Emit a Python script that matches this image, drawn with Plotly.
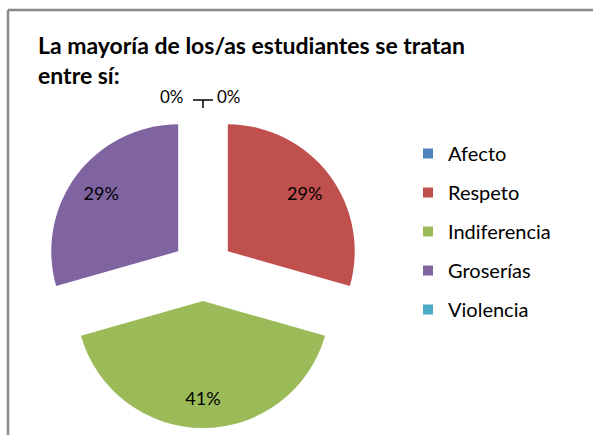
import plotly.graph_objects as go

categories = ["Afecto", "Respeto", "Indiferencia", "Groserías", "Violencia"]
values = [0, 5, 7, 5, 0]
colors = ["#4F81BD", "#C0504D", "#9BBB59", "#8064A2", "#4BACC6"]
title_text = "La mayoría de los/as estudiantes se tratan<br>entre sí:"

W, H = 593, 435
total = sum(values)
FONT = "Lato, 'Open Sans', sans-serif"
pie_domain = dict(x=[45 / W, 361 / W], y=[1 - 428 / H, 1 - 112 / H])
PULL = 0.245

fig = go.Figure()
# main pie (no text)
fig.add_trace(go.Pie(
    labels=categories, values=values, sort=False, direction="clockwise", rotation=0,
    marker=dict(colors=colors, line=dict(width=0)),
    pull=[PULL] * len(values), textinfo="none",
    showlegend=False, hoverinfo="label+percent",
    domain=pie_domain,
))
# transparent ring with the same data, to carry the percentage labels further out
fig.add_trace(go.Pie(
    labels=categories, values=values, sort=False, direction="clockwise", rotation=0,
    marker=dict(colors=["rgba(0,0,0,0)"] * len(values), line=dict(width=0)),
    pull=[PULL] * len(values), hole=0.52,
    texttemplate="%{percent:.0%}", textposition="inside", insidetextorientation="horizontal",
    textfont=dict(family=FONT, size=18, color="#000000"),
    showlegend=False, hoverinfo="skip",
    domain=pie_domain,
))

# legend entries
for c, col in zip(categories, colors):
    fig.add_trace(go.Scatter(
        x=[None], y=[None], mode="markers", name=c, legendgroup=c,
        marker=dict(symbol="square", size=10, color=col),
    ))

# zero-value labels
zero_idx = [i for i, v in enumerate(values) if v == 0]
zero_pos = [(229 / W, 1 - 96 / H), (172 / W, 1 - 96 / H)]
for k, i in enumerate(zero_idx):
    fig.add_annotation(x=zero_pos[k][0], y=zero_pos[k][1], xref="paper", yref="paper",
                       xanchor="center", yanchor="middle",
                       text=f"{values[i] / total:.0%}", showarrow=False,
                       font=dict(family=FONT, size=17, color="#000000"))

shapes = [
    dict(type="line", xref="paper", yref="paper", x0=193 / W, x1=213 / W, y0=1 - 100 / H, y1=1 - 100 / H,
         line=dict(color="#000000", width=1.5)),
    dict(type="line", xref="paper", yref="paper", x0=203 / W, x1=203 / W, y0=1 - 100 / H, y1=1 - 108 / H,
         line=dict(color="#000000", width=1.5)),
    dict(type="line", xref="paper", yref="paper", x0=8 / W, x1=1.01, y0=1 - 10 / H, y1=1 - 10 / H,
         line=dict(color="#898989", width=2.5)),
    dict(type="line", xref="paper", yref="paper", x0=8 / W, x1=8 / W, y0=1 - 10 / H, y1=-0.01,
         line=dict(color="#898989", width=2.5)),
]

fig.update_layout(
    width=W, height=H,
    margin=dict(l=0, r=0, t=0, b=0),
    paper_bgcolor="white", plot_bgcolor="white",
    title=dict(text=f"<b>{title_text}</b>", x=38 / W, xanchor="left", y=1 - 54 / H, yanchor="top",
               font=dict(family=FONT, size=23, color="#000000")),
    xaxis=dict(visible=False), yaxis=dict(visible=False),
    legend=dict(x=408 / W, xanchor="left", y=1 - 134 / H, yanchor="top",
                font=dict(family=FONT, size=20, color="#000000"),
                tracegroupgap=10, traceorder="grouped", bgcolor="rgba(0,0,0,0)"),
    shapes=shapes,
    font=dict(family=FONT),
)

fig.write_html("out.html", config={"displayModeBar": False},
               post_script="document.body.style.margin='0px';")
